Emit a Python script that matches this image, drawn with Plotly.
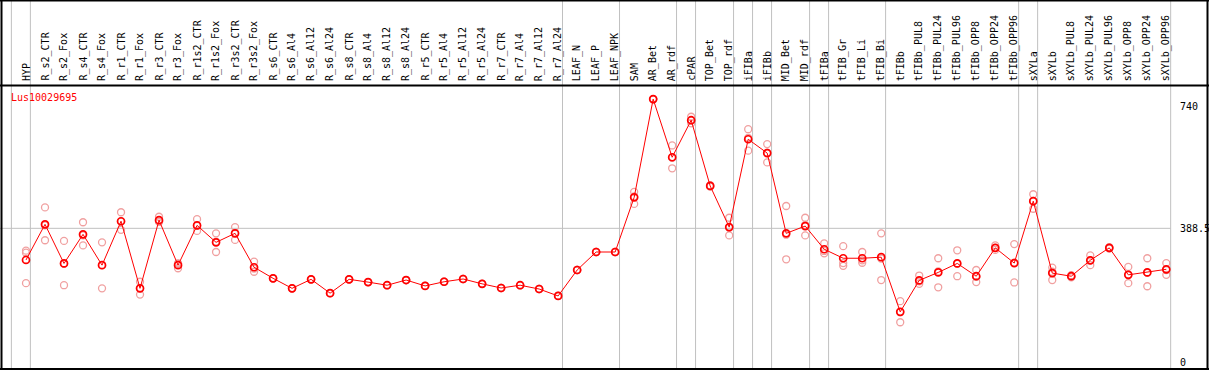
import plotly.graph_objects as go

W, H = 1209, 370

categories = ["HYP", "R_s2_CTR", "R_s2_Fox", "R_s4_CTR", "R_s4_Fox", "R_r1_CTR", "R_r1_Fox",
              "R_r3_CTR", "R_r3_Fox", "R_r1s2_CTR", "R_r1s2_Fox", "R_r3s2_CTR", "R_r3s2_Fox",
              "R_s6_CTR", "R_s6_Al4", "R_s6_Al12", "R_s6_Al24", "R_s8_CTR", "R_s8_Al4", "R_s8_Al12",
              "R_s8_Al24", "R_r5_CTR", "R_r5_Al4", "R_r5_Al12", "R_r5_Al24", "R_r7_CTR", "R_r7_Al4",
              "R_r7_Al12", "R_r7_Al24", "LEAF_N", "LEAF_P", "LEAF_NPK", "SAM", "AR_Bet", "AR_rdf",
              "cPAR", "TOP_Bet", "TOP_rdf", "iFIBa", "iFIBb", "MID_Bet", "MID_rdf", "tFIBa",
              "tFIB_Gr", "tFIB_Li", "tFIB_Bi", "tFIBb", "tFIBb_PUL8", "tFIBb_PUL24", "tFIBb_PUL96",
              "tFIBb_OPP8", "tFIBb_OPP24", "tFIBb_OPP96", "sXYLa", "sXYLb", "sXYLb_PUL8",
              "sXYLb_PUL24", "sXYLb_PUL96", "sXYLb_OPP8", "sXYLb_OPP24", "sXYLb_OPP96"]

mean_values = [297, 400, 287, 371, 282, 409, 215, 412, 282, 397, 348, 374, 276,
               244, 215, 241, 201, 241, 233, 224, 239, 222, 234, 242, 228, 216, 224, 213, 193,
               268, 320, 320, 478, 762, 594, 701, 511, 392, 646, 606, 374, 395, 328,
               302, 302, 305, 147, 238, 261, 287, 250, 332, 288, 467, 259, 250, 296, 332,
               254, 261, 270]

rep1 = [324, 449, 352, 406, 348, 435, 234, 422, 287, 415, 374, 392, 292,
        244, 215, 241, 201, 241, 233, 224, 239, 222, 234, 242, 228, 216, 224, 213, 193,
        268, 320, 320, 494, 762, 628, 711, 513, 419, 675, 632, 453, 419, 345,
        337, 320, 374, 178, 252, 302, 325, 268, 339, 343, 487, 275, 253, 310, 334,
        277, 302, 288]
rep2 = [318, 354, 224, 339, 215, 384, 197, 408, 273, 381, 320, 355, 263,
        244, 215, 241, 201, 241, 233, 224, 239, 222, 234, 242, 228, 216, 224, 213, 193,
        268, 320, 320, 459, 762, 562, 692, 509, 368, 613, 579, 299, 368, 316,
        280, 289, 239, 117, 228, 218, 250, 233, 326, 232, 445, 239, 247, 282, 330,
        230, 221, 254]
rep3 = [230, 397, 286, 368, 282, 408, 215, 407, 286, 396, 350, 375, 272,
        244, 215, 241, 201, 241, 233, 224, 239, 222, 234, 242, 228, 216, 224, 213, 193,
        268, 320, 320, 481, 762, 592, 700, 511, 390, 650, 607, 370, 398, 323,
        288, 296, 301, 146, 235, 264, 286, 248, 332, 289, 468, 263, 250, 296, 332,
        255, 260, 268]

# group separators: a vertical line is drawn just after these category indices
separator_after = [-1, 0, 28, 31, 34, 35, 37, 38, 39, 41, 42, 45, 52, 53, 60]

gene_id = "Lus10029695"
y_ticks = [740, 388.5, 0]
y_tick_text = ["740", "388.5", "0"]
ref_line_value = 388.5

# pixel geometry
X0_PX, DX_PX = 26.0, 19.005
Y0_PX, PX_PER_UNIT = 362.7, 0.3459
x_range = [(0 - X0_PX) / DX_PX, (W - X0_PX) / DX_PX]
y_range = [(Y0_PX - H) / PX_PER_UNIT, Y0_PX / PX_PER_UNIT]

xs = list(range(len(categories)))
font_family = "DejaVu Sans Mono, Liberation Mono, monospace"

fig = go.Figure()

rep_color = "#F0A0A0"
for reps in (rep1, rep2, rep3):
    fig.add_trace(go.Scatter(x=xs, y=reps, mode="markers",
                             marker=dict(symbol="circle-open", size=7, color=rep_color,
                                         line=dict(width=1.3, color=rep_color)),
                             hoverinfo="skip", showlegend=False))

fig.add_trace(go.Scatter(x=xs, y=mean_values, mode="lines+markers",
                         line=dict(color="#FF0000", width=1),
                         marker=dict(symbol="circle-open", size=7, color="#FF0000",
                                     line=dict(width=1.7, color="#FF0000")),
                         showlegend=False))

shapes = []
grid = "#C0C0C0"
sep_off = 0.23
for s in separator_after:
    shapes.append(dict(type="line", xref="x", yref="paper", x0=s + sep_off, x1=s + sep_off,
                       y0=0, y1=1, line=dict(color=grid, width=1), layer="below"))
last_sep = separator_after[-1] + sep_off
shapes.append(dict(type="line", xref="paper", yref="y", x0=0, x1=(last_sep * DX_PX + X0_PX) / W,
                   y0=ref_line_value, y1=ref_line_value, line=dict(color=grid, width=1),
                   layer="below"))

def py(p):
    return 1 - p / H

def px(p):
    return p / W

black = dict(color="#000000", width=2)
shapes += [
    dict(type="line", xref="paper", yref="paper", x0=0, x1=1, y0=py(85.5), y1=py(85.5), line=black),
    dict(type="line", xref="paper", yref="paper", x0=0, x1=1, y0=py(0.5), y1=py(0.5), line=black),
    dict(type="line", xref="paper", yref="paper", x0=0, x1=1, y0=py(369), y1=py(369), line=black),
    dict(type="line", xref="paper", yref="paper", x0=px(1.5), x1=px(1.5), y0=0, y1=1, line=black),
    dict(type="line", xref="paper", yref="paper", x0=px(1207.5), x1=px(1207.5), y0=0, y1=1, line=black),
]

annotations = []
for i, c in enumerate(categories):
    annotations.append(dict(x=i, y=py(83), xref="x", yref="paper", text=c, textangle=-90,
                            showarrow=False, xanchor="center", yanchor="bottom",
                            font=dict(family=font_family, size=10, color="#000000")))
for v, t in zip(y_ticks, y_tick_text):
    annotations.append(dict(x=px(1178), y=v, xref="paper", yref="y", text=t, showarrow=False,
                            xanchor="left", yanchor="middle",
                            font=dict(family=font_family, size=10, color="#000000")))
annotations.append(dict(x=px(9), y=py(98), xref="paper", yref="paper", text=gene_id,
                        showarrow=False, xanchor="left", yanchor="middle",
                        font=dict(family=font_family, size=10, color="#FF0000")))

fig.update_layout(
    width=W, height=H, margin=dict(l=0, r=0, t=0, b=0),
    paper_bgcolor="white", plot_bgcolor="white",
    xaxis=dict(range=x_range, visible=False, fixedrange=True),
    yaxis=dict(range=y_range, visible=False, fixedrange=True),
    shapes=shapes, annotations=annotations, showlegend=False,
)

fig.write_html("out.html", config={"displayModeBar": False},
               post_script="document.body.style.margin='0';document.body.style.overflow='hidden';")
